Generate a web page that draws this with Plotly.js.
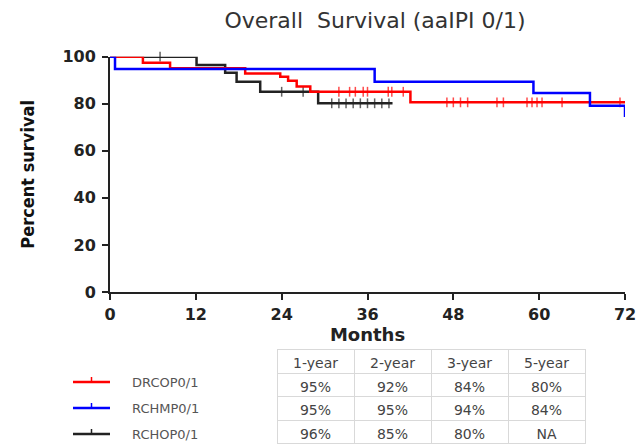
<!DOCTYPE html>
<html>
<head>
<meta charset="utf-8">
<script src="https://cdn.plot.ly/plotly-3.0.1.min.js"></script>
<style>html,body{margin:0;padding:0;background:#fff;overflow:hidden;}#chart{width:643px;height:445px;}</style>
</head>
<body>
<div id="chart"></div>
<script>
// ---- data ----
var groupNames = ['DRCOP0/1', 'RCHMP0/1', 'RCHOP0/1'];
var groupColors = ['#ff0000', '#0000ff', '#222222'];

// Kaplan-Meier step points (months, percent survival)
var drcopTimes = [0, 4.6, 8.4, 18.9, 23.8, 24.9, 26.1, 28.0, 42.0, 72];
var drcopSurv  = [100, 97.4, 95.1, 92.9, 91.5, 89.8, 87.3, 85.1, 80.6, 80.6];
var drcopCensor = [32, 33.5, 34.3, 35.4, 36, 38.9, 39.4, 41, 47.1, 48, 49, 50, 54.1, 55, 58.3, 59, 59.7, 60.4, 63.2, 71.3];

var rchmpTimes = [0, 0.7, 37.0, 59.2, 67.1, 72];
var rchmpSurv  = [100, 94.8, 89.4, 84.6, 79.2, 74.4];
var rchmpCensor = [];

var rchopTimes = [0, 12.1, 16.1, 17.7, 21.0, 29.1, 39.5];
var rchopSurv  = [100, 96.5, 93.2, 89.4, 85.1, 80.2, 80.2];
var rchopCensor = [7, 24, 27, 31, 32, 33, 34, 35, 36, 37, 38, 39];

// summary table
var tableHeader = ['1-year', '2-year', '3-year', '5-year'];
var drcopRow = ['95%', '92%', '84%', '80%'];
var rchmpRow = ['95%', '95%', '94%', '84%'];
var rchopRow = ['96%', '85%', '80%', 'NA'];

var xTicks = [0, 12, 24, 36, 48, 60, 72];
var yTicks = [0, 20, 40, 60, 80, 100];

// ---- build traces ----
function stepValue(times, surv, t) {
  var v = surv[0];
  for (var i = 0; i < times.length; i++) { if (times[i] <= t) v = surv[i]; }
  return v;
}
function buildTrace(name, color, times, surv, censor) {
  // merge event points and censor points, markers shown only at censors
  var pts = [];
  for (var i = 0; i < times.length; i++) pts.push({x: times[i], y: surv[i], c: false});
  for (var j = 0; j < censor.length; j++) pts.push({x: censor[j], y: stepValue(times, surv, censor[j]), c: true});
  pts.sort(function (a, b) { return a.x - b.x || (a.c ? 1 : -1); });
  return {
    type: 'scatter', mode: 'lines+markers', name: name, showlegend: false,
    x: pts.map(function (p) { return p.x; }),
    y: pts.map(function (p) { return p.y; }),
    line: {shape: 'hv', color: color, width: 2.5},
    marker: {symbol: 'line-ns', color: color,
             size: pts.map(function (p) { return p.c ? 7 : 0; }),
             line: {color: color, width: 1.5}},
    cliponaxis: false
  };
}
var traces = [
  buildTrace(groupNames[2], groupColors[2], rchopTimes, rchopSurv, rchopCensor),
  buildTrace(groupNames[0], groupColors[0], drcopTimes, drcopSurv, drcopCensor),
  buildTrace(groupNames[1], groupColors[1], rchmpTimes, rchmpSurv, rchmpCensor)
];

traces.push({
  type: 'table',
  domain: {x: [277 / 643, 585 / 643], y: [0, 1 - 349 / 445]},
  columnwidth: [1, 1, 1, 1],
  header: {values: tableHeader, height: 24, align: 'center',
           fill: {color: '#ffffff'}, line: {color: '#d9d9d9', width: 1},
           font: {family: 'DejaVu Sans', size: 14, color: '#444'}},
  cells: {values: tableHeader.map(function (_, k) { return [drcopRow[k], rchmpRow[k], rchopRow[k]]; }),
          height: 23.5, align: 'center',
          fill: {color: '#ffffff'}, line: {color: '#d9d9d9', width: 1},
          font: {family: 'DejaVu Sans', size: 14, color: '#444'}}
});

// manual legend (key) placed below the plot, left of the table
var W = 643, H = 445;
var shapes = [], annotations = [];
groupNames.forEach(function (name, i) {
  var yy = 1 - (382 + 26 * i) / H;
  shapes.push({type: 'line', xref: 'paper', yref: 'paper', x0: 73 / W, x1: 110 / W, y0: yy, y1: yy,
               line: {color: groupColors[i], width: 2.5}});
  shapes.push({type: 'line', xref: 'paper', yref: 'paper', x0: 91.5 / W, x1: 91.5 / W, y0: yy, y1: yy + 5 / H,
               line: {color: groupColors[i], width: 1.5}});
  annotations.push({xref: 'paper', yref: 'paper', x: 130 / W, y: yy, xanchor: 'left', yanchor: 'middle',
                    text: name, showarrow: false,
                    font: {family: 'DejaVu Sans', size: 13, color: '#555'}});
});

var axisFont = {family: 'DejaVu Sans', size: 16, color: '#222', weight: 'bold'};
var layout = {
  width: W, height: H,
  margin: {l: 0, r: 0, t: 0, b: 0},
  paper_bgcolor: '#fff', plot_bgcolor: '#fff',
  showlegend: false,
  shapes: shapes, annotations: annotations,
  title: {text: 'Overall\u00a0 Survival (aaIPI 0/1)', x: 375 / W, y: 1 - 20 / H,
          xanchor: 'center', yanchor: 'middle',
          font: {family: 'DejaVu Sans', size: 22, color: '#333'}},
  xaxis: {domain: [110 / W, 625 / W], range: [0, 72], tickvals: xTicks, ticktext: xTicks.map(String),
          showgrid: false, zeroline: false, showline: true, linecolor: '#222', linewidth: 2,
          ticks: 'outside', ticklen: 6, tickwidth: 2, tickcolor: '#222', tickfont: axisFont,
          ticklabelstandoff: 1,
          title: {text: 'Months', standoff: 5, font: {family: 'DejaVu Sans', size: 18, color: '#222', weight: 'bold'}},
          fixedrange: true},
  yaxis: {domain: [1 - 292 / H, 1 - 56.7 / H], range: [0, 100], tickvals: yTicks, ticktext: yTicks.map(String),
          showgrid: false, zeroline: false, showline: true, linecolor: '#222', linewidth: 2,
          ticks: 'outside', ticklen: 6, tickwidth: 2, tickcolor: '#222', tickfont: axisFont,
          ticklabelstandoff: 3,
          title: {text: 'Percent survival', standoff: 23,
                  font: {family: 'Liberation Sans Narrow, DejaVu Sans Condensed, Liberation Sans', size: 18, color: '#111', weight: 'bold'}},
          fixedrange: true}
};

Plotly.newPlot('chart', traces, layout, {displayModeBar: false, staticPlot: true});
</script>
</body>
</html>
